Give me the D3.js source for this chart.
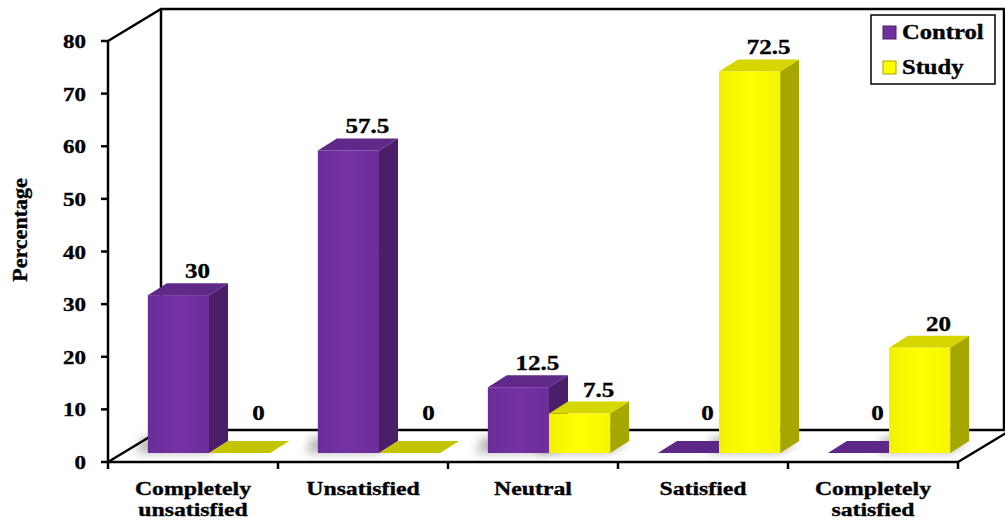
<!DOCTYPE html>
<html>
<head>
<meta charset="utf-8">
<script src="https://cdn.jsdelivr.net/npm/d3@7"></script>
<style>
  body { margin: 0; background: #fff; }
  text { font-family: 'Liberation Serif', 'Times New Roman', serif; font-weight: bold; fill: #000; stroke: #000; stroke-width: 0.35px; }
</style>
</head>
<body>
<div id="chart"></div>
<script>
// Chart data
const categories = [['Completely', 'unsatisfied'], ['Unsatisfied'], ['Neutral'], ['Satisfied'], ['Completely', 'satisfied']];
const seriesNames = ['Control', 'Study'];
const controlValues = [30, 57.5, 12.5, 0, 0];
const studyValues = [0, 0, 7.5, 72.5, 20];
const yTicks = [0, 10, 20, 30, 40, 50, 60, 70, 80];

const width = 1005;
const height = 525;
const stretch = 1.21; // the original text is a bit wide

// 3d geometry
const wall = { dx: 53, dy: -32 };   // depth of floor / back wall
const shift = { dx: 16, dy: -9 };   // bars sit a bit behind the front plane
const depth = { dx: 19, dy: -12 };  // depth of each bar

const colors = {
  Control: { front: '#7030a0', side: '#4a1e68', top: '#5f2889', flat: '#5d2787' },
  Study: { front: '#ffff00', side: '#a6a600', top: '#d6d600', flat: '#c4c400' },
};

const svg = d3
  .select('#chart')
  .append('svg')
  .attr('width', width)
  .attr('height', height);

// place a stretched text at x, y
function wideText(sel, tx, ty, k) {
  return sel.attr('transform', (d, i) => `translate(${tx(d, i)},${ty(d, i)}) scale(${k || stretch},1)`);
}

const defs = svg.append('defs');
const blur = defs.append('filter').attr('id', 'shadow').attr('x', '-50%').attr('y', '-50%').attr('width', '200%').attr('height', '200%');
blur.append('feGaussianBlur').attr('stdDeviation', 5);

['Control', 'Study'].forEach((s) => {
  const g = defs.append('linearGradient').attr('id', 'grad-' + s).attr('x1', 0).attr('x2', 1);
  const c = d3.color(colors[s].front);
  g.append('stop').attr('offset', '0%').attr('stop-color', c.darker(0.15));
  g.append('stop').attr('offset', '50%').attr('stop-color', c.brighter(0.1));
  g.append('stop').attr('offset', '100%').attr('stop-color', c.darker(0.1));
});

const y = d3.scaleLinear().domain([0, 80]).range([462, 41]);
const x = d3.scaleBand().domain(d3.range(categories.length)).range([108, 958]);
const xSub = d3.scaleBand().domain(seriesNames).range([0, x.bandwidth()]).paddingOuter(0.39);

const x0 = x.range()[0];
const x1 = x.range()[1];
const y0 = y(0);
const yTop = y(80);

// Back wall and floor
const frame = svg.append('g').attr('fill', 'none').attr('stroke', '#000').attr('stroke-width', 2.5);
frame.append('path').attr('d', `M${x0},${yTop} L${x0 + wall.dx},${yTop + wall.dy} L${width},${yTop + wall.dy}`);
frame.append('path').attr('d', `M${x0 + wall.dx},${yTop + wall.dy} L${x0 + wall.dx},${y0 + wall.dy} L${width},${y0 + wall.dy}`);
frame.append('path').attr('d', `M${width - 1},${yTop + wall.dy} L${width - 1},${y0 + wall.dy}`);
frame.append('path').attr('d', `M${x0},${y0} L${x0 + wall.dx},${y0 + wall.dy}`);
frame.append('path').attr('d', `M${x1},${y0} L${x1 + wall.dx},${y0 + wall.dy}`);

// Bars data
const bars = [];
categories.forEach((c, i) => {
  bars.push({ cat: i, s: 'Control', v: controlValues[i] });
  bars.push({ cat: i, s: 'Study', v: studyValues[i] });
});

const barLayer = svg.append('g');

// soft shadows on the floor
barLayer
  .selectAll('.shadow')
  .data(bars.filter((d) => d.v > 0))
  .enter()
  .append('path')
  .attr('class', 'shadow')
  .attr('fill', '#000')
  .attr('opacity', 0.28)
  .attr('filter', 'url(#shadow)')
  .attr('d', (d) => {
    const bx = x(d.cat) + xSub(d.s) + shift.dx;
    const by = y0 + shift.dy;
    const w = xSub.bandwidth();
    return `M${bx - 12},${by} L${bx + w},${by} L${bx + w + depth.dx},${by + depth.dy} L${bx - 6},${by + depth.dy - 4}Z`;
  });

const bar = barLayer
  .selectAll('.bar')
  .data(bars)
  .enter()
  .append('g')
  .attr('class', 'bar');

bar.each(function (d) {
  const g = d3.select(this);
  const bx = x(d.cat) + xSub(d.s) + shift.dx;
  const w = xSub.bandwidth();
  const by = y0 + shift.dy;
  const ty = y(d.v) + shift.dy;
  const col = colors[d.s];
  if (d.v === 0) {
    g.append('path')
      .attr('fill', col.flat)
      .attr('d', `M${bx},${by} L${bx + w},${by} L${bx + w + depth.dx},${by + depth.dy} L${bx + depth.dx},${by + depth.dy}Z`);
    return;
  }
  // side
  g.append('path')
    .attr('fill', col.side)
    .attr('d', `M${bx + w},${by} L${bx + w + depth.dx},${by + depth.dy} L${bx + w + depth.dx},${ty + depth.dy} L${bx + w},${ty}Z`);
  // top
  g.append('path')
    .attr('fill', col.top)
    .attr('d', `M${bx},${ty} L${bx + w},${ty} L${bx + w + depth.dx},${ty + depth.dy} L${bx + depth.dx},${ty + depth.dy}Z`);
  // front
  g.append('rect')
    .attr('x', bx)
    .attr('y', ty)
    .attr('width', w)
    .attr('height', by - ty)
    .attr('fill', `url(#grad-${d.s})`);
});

// Value labels
wideText(
  barLayer
    .selectAll('.val')
    .data(bars)
    .enter()
    .append('text')
    .attr('class', 'val')
    .attr('text-anchor', 'middle')
    .style('font-size', '20px')
    .text((d) => d.v),
  (d) => x(d.cat) + xSub(d.s) + shift.dx + xSub.bandwidth() / 2 + depth.dx,
  (d) => (d.v === 0 ? y0 + shift.dy + depth.dy - 21 : y(d.v) + shift.dy + depth.dy - 5),
  1.25,
);

// Front axes
const axes = svg.append('g').attr('stroke', '#000').attr('stroke-width', 2.5);
axes.append('line').attr('x1', x0).attr('x2', x0).attr('y1', yTop).attr('y2', y0 + 1);
axes.append('line').attr('x1', x0 - 1).attr('x2', x1).attr('y1', y0).attr('y2', y0);

axes
  .selectAll('.ytick')
  .data(yTicks)
  .enter()
  .append('line')
  .attr('x1', x0 - 7)
  .attr('x2', x0)
  .attr('y1', (d) => y(d))
  .attr('y2', (d) => y(d));

axes
  .selectAll('.xtick')
  .data(d3.range(categories.length + 1))
  .enter()
  .append('line')
  .attr('x1', (d) => x0 + d * x.step())
  .attr('x2', (d) => x0 + d * x.step())
  .attr('y1', y0)
  .attr('y2', y0 + 7);

wideText(
  svg
    .selectAll('.ylab')
    .data(yTicks)
    .enter()
    .append('text')
    .attr('text-anchor', 'end')
    .style('font-size', '19px')
    .text((d) => d),
  () => 86,
  (d) => y(d) + 7,
);

svg
  .append('text')
  .attr('transform', 'translate(27,230) rotate(-90) scale(1.1,1)')
  .attr('text-anchor', 'middle')
  .style('font-size', '20px')
  .text('Percentage');

// category labels, one text per line
const xl = svg
  .selectAll('.xlab')
  .data(categories)
  .enter()
  .append('g')
  .attr('class', 'xlab');

wideText(
  xl
    .selectAll('text')
    .data((d, i) => d.map((t, j) => ({ t, j, i })))
    .enter()
    .append('text')
    .attr('text-anchor', 'middle')
    .style('font-size', '19px')
    .text((d) => d.t),
  (d) => x(d.i) + x.bandwidth() / 2,
  (d) => 495 + d.j * 21,
  1.25,
);

// Legend
const legend = svg.append('g').attr('transform', 'translate(871,15)');
legend.append('rect').attr('width', 124).attr('height', 69).attr('fill', '#fff').attr('stroke', '#000').attr('stroke-width', 1.5);
seriesNames.forEach((s, i) => {
  const row = legend.append('g').attr('transform', `translate(0,${i * 35})`);
  row.append('rect').attr('x', 12).attr('y', 11).attr('width', 13).attr('height', 13).attr('fill', colors[s].front).attr('stroke', colors[s].side).attr('stroke-width', 1);
  row.append('text').attr('transform', `translate(31,24) scale(1.23,1)`).style('font-size', '20px').text(s);
});
</script>
</body>
</html>
